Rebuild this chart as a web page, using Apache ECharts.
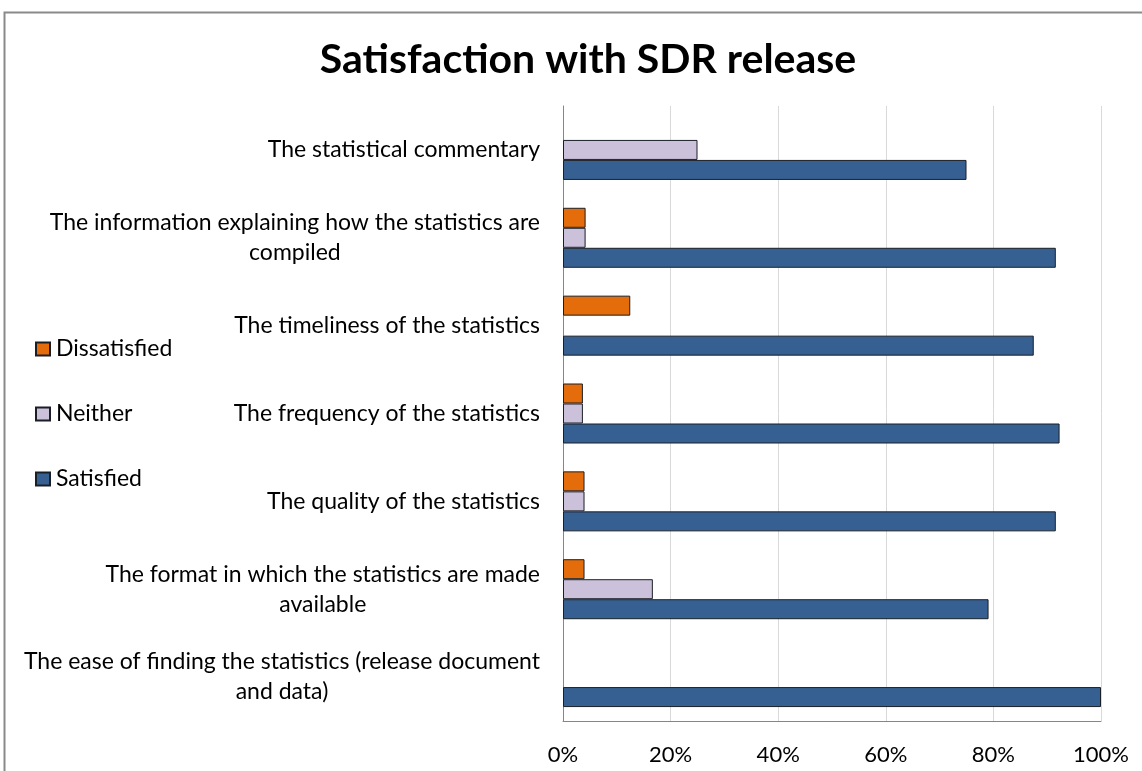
<!DOCTYPE html>
<html>
<head>
<meta charset="utf-8">
<script src="https://cdn.jsdelivr.net/npm/echarts@6/dist/echarts.min.js"></script>
<style>
html,body{margin:0;padding:0;background:#fff;}
#chart{width:1142px;height:771px;}
</style>
</head>
<body>
<div id="chart"></div>
<script>
// Categories, top to bottom as shown
const categories = [
  "The statistical commentary",
  "The information explaining how the statistics are\ncompiled",
  "The timeliness of the statistics",
  "The frequency of the statistics",
  "The quality of the statistics",
  "The format in which the statistics are made\navailable",
  "The ease of finding the statistics (release document\nand data)"
];
const dissatisfied = [0, 4.2, 12.5, 3.7, 4.0, 4.0, 0];
const neither      = [25, 4.2, 0, 3.7, 4.0, 16.7, 0];
const satisfied    = [75, 91.6, 87.5, 92.3, 91.6, 79.1, 100];
const xTicks = [0, 20, 40, 60, 80, 100];

const FONT = 'Lato, "Open Sans", sans-serif';
const chart = echarts.init(document.getElementById('chart'), null, {renderer: 'canvas'});

function toData(arr){ return arr.map(v => v === 0 ? '-' : v); }
function mk(name, arr, color){
  return {
    name: name, type: 'bar', data: toData(arr),
    barWidth: 20, barGap: '0%',
    itemStyle: {color: color, borderColor: '#1a1f26', borderWidth: 1}
  };
}

chart.setOption({
  animation: false,
  backgroundColor: '#fff',
  graphic: [{
    type: 'rect', shape: {x: 4.5, y: 12.5, width: 1200, height: 800},
    style: {fill: 'none', stroke: '#8a8a8a', lineWidth: 2}, silent: true, z: -1
  }],
  title: {
    text: 'Satisfaction with SDR release',
    left: 583, top: 34, textAlign: 'center',
    textStyle: {fontFamily: FONT, fontWeight: 'bold', fontSize: 41, color: '#000'}
  },
  legend: {
    orient: 'vertical', left: 30, top: 331,
    data: ['Dissatisfied', 'Neither', 'Satisfied'],
    itemWidth: 14, itemHeight: 13, itemGap: 39,
    icon: 'rect',
    textStyle: {fontFamily: FONT, fontSize: 23, color: '#000', lineHeight: 26, padding: [0,0,0,1]}
  },
  grid: {left: 563, right: 41, top: 106, bottom: 50, containLabel: false},
  xAxis: {
    type: 'value', min: 0, max: 100, interval: 20,
    axisLine: {show: true, lineStyle: {color: '#868686'}},
    axisTick: {show: false},
    splitLine: {show: true, lineStyle: {color: '#d9d9d9', width: 1}},
    axisLabel: {
      margin: 23, fontFamily: FONT, fontSize: 22, color: '#000',
      formatter: v => xTicks.indexOf(v) >= 0 ? v + '%' : ''
    }
  },
  yAxis: {
    type: 'category', data: categories, inverse: true,
    axisLine: {show: true, lineStyle: {color: '#868686'}},
    axisTick: {show: false},
    axisLabel: {
      margin: 23, fontFamily: FONT, fontSize: 23, color: '#000', lineHeight: 30,
      align: 'right',
      formatter: v => v.split('\n').map(l => '{c|' + l + '}').join('\n'),
      rich: {c: {align: 'center', fontFamily: FONT, fontSize: 23, color: '#000', lineHeight: 30}}
    }
  },
  series: [
    mk('Dissatisfied', dissatisfied, '#e46c0a'),
    mk('Neither', neither, '#ccc1da'),
    mk('Satisfied', satisfied, '#366092')
  ]
});
</script>
</body>
</html>
